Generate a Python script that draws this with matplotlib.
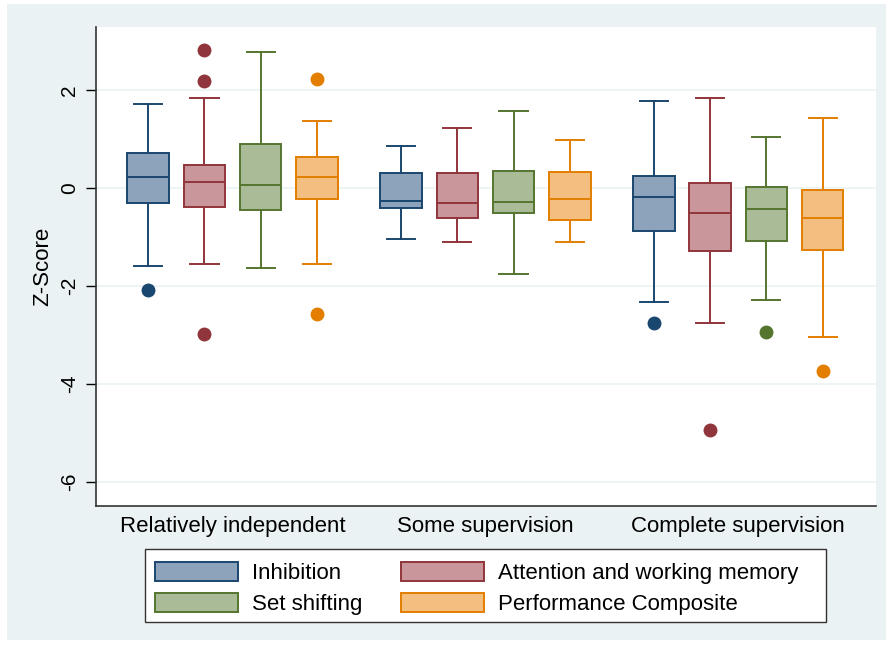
import matplotlib.pyplot as plt
from matplotlib.patches import Rectangle, Patch

plt.rcParams['font.family'] = ['Liberation Sans', 'DejaVu Sans']

groups = ["Relatively independent", "Some supervision", "Complete supervision"]
measures = ["Inhibition", "Attention and working memory", "Set shifting", "Performance Composite"]

# per measure: one value per group
whishi = [[1.71, 0.86, 1.78], [1.84, 1.22, 1.84], [2.77, 1.58, 1.04], [1.37, 0.99, 1.43]]
q3 = [[0.71, 0.31, 0.24], [0.47, 0.31, 0.10], [0.90, 0.34, 0.02], [0.63, 0.33, -0.03]]
med = [[0.22, -0.26, -0.18], [0.13, -0.31, -0.50], [0.06, -0.28, -0.42], [0.22, -0.22, -0.61]]
q1 = [[-0.31, -0.41, -0.87], [-0.39, -0.61, -1.28], [-0.44, -0.50, -1.08], [-0.22, -0.65, -1.27]]
whislo = [[-1.58, -1.03, -2.33], [-1.55, -1.09, -2.75], [-1.64, -1.76, -2.29], [-1.54, -1.09, -3.03]]
fliers = [[[-2.07], [], [-2.75]],
          [[2.82, 2.18, -2.97], [], [-4.93]],
          [[], [], [-2.94]],
          [[2.22, -2.56], [], [-3.73]]]

edge_colors = ["#1a476f", "#90353b", "#55752f", "#e37e00"]
fill_colors = ["#8da3bb", "#c8969b", "#aabb98", "#f2bf80"]
bg = "#eaf2f3"

fig = plt.figure(figsize=(8.87, 6.45), dpi=100, facecolor="white")
fig.patches.append(Rectangle((7 / 887, 5 / 645), 1 - 7 / 887, 1 - 9 / 645,
                             transform=fig.transFigure, facecolor=bg, edgecolor="none", zorder=-10))
ax = fig.add_axes([96 / 887, 1 - 506 / 645, 780 / 887, 479 / 645])
ax.set_facecolor("white")

for m in range(4):
    stats = []
    for g in range(3):
        stats.append(dict(med=med[m][g], q1=q1[m][g], q3=q3[m][g],
                          whislo=whislo[m][g], whishi=whishi[m][g], fliers=fliers[m][g]))
    pos = [g * 4.5 + m for g in range(3)]
    c = edge_colors[m]
    ax.bxp(stats, positions=pos, widths=0.74, capwidths=0.5, patch_artist=True, showfliers=True,
           boxprops=dict(facecolor=fill_colors[m], edgecolor=c, linewidth=1.4),
           medianprops=dict(color=c, linewidth=1.4),
           whiskerprops=dict(color=c, linewidth=1.4),
           capprops=dict(color=c, linewidth=1.4),
           flierprops=dict(marker="o", markerfacecolor=c, markeredgecolor=c, markersize=9))

ax.set_xlim(-0.93, 12.95)
ax.set_ylim(-6.49, 3.29)
ax.set_yticks([-6, -4, -2, 0, 2])
ax.set_yticklabels(["-6", "-4", "-2", "0", "2"], rotation=90, va="center", fontsize=15)
ax.set_xticks([1.5 + g * 4.5 for g in range(3)])
ax.set_xticklabels(groups, fontsize=16)
ax.tick_params(axis="x", length=0, pad=7)
ax.tick_params(axis="y", length=7, width=1, pad=5)
ax.set_ylabel("Z-Score", fontsize=16, labelpad=5)
ax.grid(axis="y", color=bg, linewidth=1.2)
ax.set_axisbelow(True)
for s in ["top", "right"]:
    ax.spines[s].set_visible(False)
for s in ["left", "bottom"]:
    ax.spines[s].set_color("#333333")
    ax.spines[s].set_linewidth(1.2)

# legend frame drawn separately (Stata leaves extra room on the right)
fig.patches.append(Rectangle((145 / 887, 1 - 622 / 645), 681 / 887, 73 / 645,
                             transform=fig.transFigure, facecolor="white", edgecolor="#333333",
                             linewidth=1.0, zorder=-5))
handles = [Patch(facecolor=fill_colors[i], edgecolor=edge_colors[i], linewidth=1.4) for i in [0, 2, 1, 3]]
labels = [measures[i] for i in [0, 2, 1, 3]]
leg = fig.legend(handles, labels, loc="upper left", bbox_to_anchor=(155 / 887, 1 - 562 / 645),
                 ncol=2, fontsize=16, handlelength=3.75, handleheight=0.95, handletextpad=0.6,
                 columnspacing=1.75, labelspacing=0.4, borderpad=0, borderaxespad=0,
                 frameon=False)

fig.savefig("out.png", dpi=100, facecolor=fig.get_facecolor())
